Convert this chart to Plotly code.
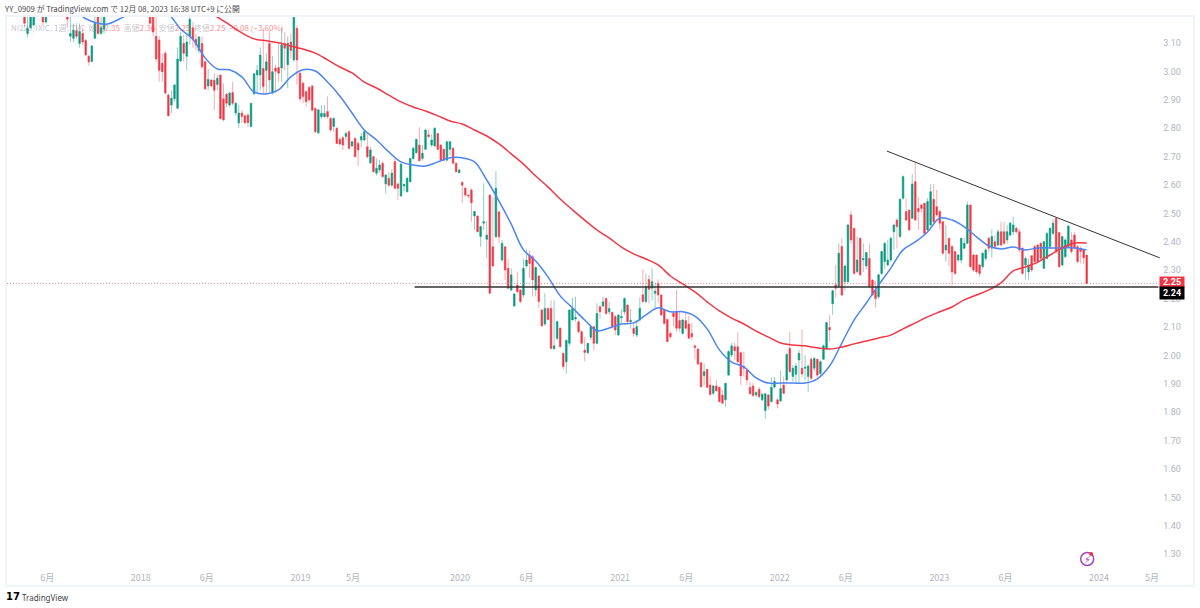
import numpy as np
import pandas as pd
import plotly.graph_objects as go

# weekly NI225/IXIC candles (values above 3.19 are off the top of the picture)
opens = [
    3.28,3.27,3.25,3.29,3.26,3.24,3.13,3.15,3.16,3.21,
    3.25,3.24,3.17,3.22,3.27,3.29,3.27,3.28,3.25,3.22,
    3.12,3.113,3.14,3.095,3.13,3.105,3.05,3.031,3.113,3.22,
    3.13,3.145,3.22,3.26,3.28,3.31,3.33,3.32,3.36,3.38,
    3.37,3.40,3.42,3.41,3.38,3.35,3.30,3.21,3.12,3.107,
    3.025,3.06,2.913,2.878,2.90,2.867,3.033,3.095,3.05,3.12,
    3.15,3.11,3.07,3.095,3.03,2.945,2.966,2.965,2.95,2.984,
    2.90,2.916,2.878,2.922,2.85,2.815,2.85,2.84,2.843,2.802,
    2.917,2.984,2.984,3.007,3.0,3.095,2.92,3.008,3.01,3.008,
    3.095,3.02,3.10,3.037,3.148,2.99,2.955,2.925,2.94,2.945,
    2.866,2.78,2.837,2.837,2.855,2.831,2.802,2.796,2.757,2.763,
    2.767,2.784,2.734,2.76,2.743,2.755,2.755,2.731,2.675,2.696,
    2.638,2.649,2.673,2.60,2.62,2.596,2.679,2.60,2.558,2.593,
    2.573,2.608,2.69,2.71,2.737,2.69,2.722,2.773,2.737,2.734,
    2.778,2.737,2.722,2.684,2.722,2.726,2.673,2.64,2.606,2.585,
    2.561,2.579,2.487,2.487,2.415,2.462,2.405,2.561,2.379,2.414,
    2.502,2.332,2.379,2.303,2.227,2.17,2.244,2.227,2.209,2.311,
    2.35,2.344,2.227,2.276,2.156,2.107,2.162,2.162,2.02,2.056,
    2.092,2.004,1.974,2.039,2.121,2.125,2.115,2.08,2.015,2.006,
    2.06,2.097,2.039,2.168,2.17,2.197,2.15,2.148,2.133,2.068,
    2.129,2.15,2.174,2.115,2.092,2.068,2.121,2.21,2.186,2.264,
    2.233,2.215,2.25,2.209,2.156,2.123,2.074,2.145,2.15,2.119,
    2.074,2.119,2.107,2.074,2.03,2.019,1.971,1.925,1.947,1.892,
    1.863,1.889,1.884,1.857,1.84,1.927,1.998,2.027,2.027,2.006,
    1.957,1.945,1.884,1.889,1.857,1.877,1.84,1.802,1.857,1.834,
    1.885,1.84,1.836,1.892,1.91,2.021,1.922,1.93,1.98,1.951,
    1.951,1.922,1.983,1.951,1.983,1.933,1.983,2.021,2.095,2.178,
    2.245,2.239,2.38,2.256,2.256,2.491,2.444,2.291,2.409,2.333,
    2.311,2.338,2.262,2.227,2.203,2.285,2.327,2.315,2.332,2.432,
    2.473,2.415,2.55,2.503,2.508,2.479,2.608,2.514,2.526,2.532,
    2.438,2.456,2.546,2.52,2.503,2.467,2.368,2.409,2.38,2.362,
    2.332,2.332,2.374,2.391,2.526,2.35,2.35,2.315,2.309,2.338,
    2.409,2.374,2.397,2.385,2.432,2.432,2.403,2.42,2.432,2.444,
    2.432,2.374,2.315,2.29,2.347,2.38,2.385,2.391,2.303,2.338,
    2.379,2.426,2.479,2.429,2.315,2.344,2.379,2.403,2.42,2.379,
    2.374,2.368,2.35,
]
highs = [
    3.30,3.29,3.30,3.31,3.28,3.25,3.19,3.24,3.25,3.27,
    3.29,3.27,3.24,3.29,3.31,3.32,3.30,3.30,3.27,3.24,
    3.19,3.165,3.165,3.165,3.15,3.11,3.055,3.09,3.19,3.24,
    3.19,3.25,3.28,3.30,3.33,3.35,3.36,3.37,3.40,3.41,
    3.42,3.44,3.45,3.43,3.40,3.37,3.32,3.23,3.19,3.12,
    3.06,3.07,2.92,2.93,2.95,3.08,3.135,3.125,3.125,3.25,
    3.17,3.13,3.12,3.12,3.035,3.005,2.97,2.99,2.985,2.985,
    2.955,2.92,2.925,2.96,2.89,2.88,2.86,2.845,2.85,2.885,
    2.99,3.02,3.08,3.148,3.06,3.14,3.05,3.02,3.095,3.15,
    3.135,3.12,3.13,3.24,3.16,2.995,2.96,2.93,2.945,2.95,
    2.87,2.865,2.878,2.878,2.908,2.835,2.835,2.80,2.765,2.77,
    2.785,2.79,2.752,2.765,2.75,2.78,2.79,2.78,2.73,2.70,
    2.69,2.685,2.68,2.635,2.643,2.652,2.69,2.605,2.672,2.60,
    2.625,2.69,2.731,2.76,2.80,2.737,2.795,2.792,2.775,2.80,
    2.78,2.74,2.725,2.752,2.752,2.73,2.675,2.655,2.608,2.59,
    2.565,2.585,2.505,2.49,2.453,2.602,2.47,2.565,2.555,2.645,
    2.505,2.403,2.38,2.338,2.303,2.215,2.291,2.23,2.338,2.37,
    2.365,2.35,2.31,2.28,2.16,2.215,2.165,2.19,2.19,2.12,
    2.095,2.006,2.05,2.16,2.2,2.203,2.12,2.085,2.06,2.04,
    2.105,2.1,2.18,2.175,2.203,2.2,2.185,2.15,2.14,2.14,
    2.16,2.2,2.175,2.16,2.11,2.12,2.2,2.30,2.285,2.28,
    2.303,2.25,2.264,2.21,2.16,2.125,2.08,2.155,2.227,2.15,
    2.125,2.15,2.135,2.11,2.035,2.02,1.972,1.968,1.948,1.922,
    1.892,1.91,1.885,1.875,1.90,2.015,2.041,2.041,2.078,2.01,
    2.01,1.95,1.904,1.90,1.87,1.885,1.862,1.865,1.862,1.919,
    1.92,1.845,1.943,1.922,2.005,2.08,1.963,1.97,2.015,2.088,
    1.998,1.965,1.99,1.99,1.985,1.98,2.035,2.115,2.138,2.228,
    2.315,2.391,2.409,2.315,2.457,2.505,2.445,2.415,2.41,2.391,
    2.36,2.391,2.265,2.26,2.285,2.365,2.395,2.403,2.415,2.46,
    2.48,2.55,2.63,2.55,2.51,2.635,2.679,2.555,2.53,2.535,
    2.55,2.599,2.60,2.579,2.51,2.47,2.456,2.41,2.385,2.365,
    2.353,2.41,2.41,2.538,2.53,2.355,2.35,2.32,2.36,2.375,
    2.415,2.44,2.42,2.44,2.467,2.467,2.456,2.467,2.485,2.45,
    2.44,2.378,2.345,2.338,2.35,2.385,2.39,2.395,2.40,2.43,
    2.447,2.475,2.483,2.432,2.418,2.41,2.455,2.43,2.43,2.385,
    2.38,2.37,2.35,
]
lows = [
    3.26,3.24,3.24,3.25,3.23,3.15,3.117,3.145,3.155,3.20,
    3.23,3.16,3.165,3.21,3.25,3.26,3.25,3.24,3.21,3.15,
    3.10,3.10,3.11,3.08,3.09,3.05,3.017,3.03,3.11,3.125,
    3.125,3.13,3.20,3.24,3.26,3.29,3.30,3.31,3.34,3.35,
    3.36,3.38,3.39,3.36,3.33,3.28,3.16,3.12,3.03,2.96,
    2.96,2.915,2.84,2.85,2.89,2.865,3.03,3.03,3.0,3.09,
    3.08,3.07,3.06,3.005,2.93,2.93,2.94,2.86,2.93,2.83,
    2.82,2.87,2.87,2.875,2.84,2.797,2.815,2.81,2.80,2.80,
    2.915,2.92,2.93,2.92,2.92,2.92,2.915,2.92,2.96,2.96,
    3.0,2.937,3.04,3.03,2.95,2.89,2.884,2.872,2.89,2.855,
    2.78,2.775,2.83,2.835,2.83,2.785,2.784,2.74,2.735,2.72,
    2.755,2.72,2.73,2.695,2.663,2.73,2.75,2.69,2.67,2.64,
    2.63,2.64,2.62,2.567,2.59,2.59,2.58,2.544,2.555,2.573,
    2.57,2.605,2.687,2.708,2.68,2.682,2.72,2.76,2.73,2.73,
    2.72,2.68,2.68,2.68,2.70,2.67,2.64,2.637,2.534,2.555,
    2.55,2.467,2.438,2.43,2.379,2.438,2.338,2.215,2.31,2.41,
    2.391,2.326,2.262,2.23,2.222,2.17,2.215,2.18,2.20,2.305,
    2.27,2.203,2.205,2.162,2.10,2.10,2.12,2.02,2.016,2.05,
    2.025,1.945,1.933,2.03,2.12,2.115,2.075,2.035,1.975,2.0,
    2.05,2.013,2.035,2.125,2.165,2.14,2.14,2.09,2.068,2.066,
    2.11,2.14,2.11,2.09,2.062,2.06,2.115,2.18,2.18,2.18,
    2.19,2.162,2.18,2.135,2.105,2.044,2.055,2.098,2.08,2.08,
    2.07,2.085,2.055,2.05,1.983,1.964,1.885,1.892,1.883,1.855,
    1.857,1.868,1.83,1.825,1.816,1.925,1.99,1.98,1.97,1.892,
    1.922,1.892,1.86,1.85,1.85,1.845,1.835,1.773,1.805,1.83,
    1.88,1.81,1.833,1.86,1.905,1.935,1.904,1.90,1.90,1.92,
    1.91,1.869,1.91,1.94,1.92,1.925,1.98,2.015,2.045,2.139,
    2.20,2.235,2.205,2.225,2.25,2.39,2.28,2.285,2.275,2.29,
    2.30,2.235,2.205,2.165,2.195,2.28,2.30,2.31,2.325,2.368,
    2.373,2.41,2.545,2.47,2.435,2.475,2.47,2.438,2.50,2.42,
    2.43,2.45,2.46,2.485,2.44,2.35,2.327,2.31,2.245,2.28,
    2.325,2.32,2.37,2.39,2.305,2.29,2.285,2.274,2.30,2.33,
    2.36,2.34,2.37,2.38,2.38,2.385,2.39,2.415,2.42,2.425,
    2.36,2.28,2.264,2.262,2.29,2.32,2.32,2.33,2.30,2.335,
    2.37,2.42,2.355,2.305,2.31,2.34,2.375,2.355,2.37,2.32,
    2.32,2.318,2.25,
]
closes = [
    3.27,3.25,3.29,3.26,3.24,3.166,3.148,3.22,3.20,3.25,
    3.27,3.17,3.21,3.27,3.29,3.27,3.28,3.25,3.22,3.18,
    3.13,3.142,3.12,3.137,3.10,3.054,3.03,3.086,3.166,3.13,
    3.15,3.22,3.26,3.28,3.31,3.33,3.32,3.36,3.38,3.37,
    3.40,3.42,3.41,3.38,3.35,3.30,3.166,3.135,3.04,3.0,
    2.995,2.92,2.84,2.902,2.949,3.04,3.12,3.06,3.10,3.18,
    3.11,3.09,3.118,3.013,2.935,2.968,2.945,2.93,2.972,2.83,
    2.826,2.884,2.92,2.884,2.884,2.85,2.838,2.816,2.816,2.884,
    2.988,3.0,3.054,2.943,3.03,2.966,2.995,2.997,2.99,3.09,
    3.078,3.095,3.07,3.187,3.037,2.90,2.908,2.89,2.896,2.86,
    2.784,2.861,2.849,2.848,2.837,2.79,2.831,2.743,2.741,2.737,
    2.778,2.726,2.749,2.696,2.72,2.767,2.784,2.696,2.72,2.643,
    2.655,2.667,2.626,2.632,2.596,2.638,2.585,2.585,2.67,2.599,
    2.62,2.69,2.726,2.757,2.682,2.708,2.79,2.767,2.755,2.796,
    2.722,2.684,2.684,2.749,2.749,2.673,2.643,2.649,2.596,2.561,
    2.558,2.534,2.503,2.432,2.45,2.467,2.42,2.215,2.311,2.585,
    2.414,2.391,2.297,2.233,2.28,2.213,2.221,2.186,2.303,2.332,
    2.32,2.262,2.306,2.186,2.10,2.162,2.123,2.021,2.03,2.115,
    2.027,1.957,2.05,2.156,2.162,2.13,2.08,2.039,2.007,2.039,
    2.097,2.039,2.144,2.15,2.185,2.144,2.162,2.098,2.086,2.139,
    2.133,2.197,2.115,2.12,2.074,2.098,2.162,2.186,2.238,2.229,
    2.256,2.223,2.209,2.139,2.109,2.045,2.062,2.133,2.092,2.092,
    2.121,2.092,2.057,2.062,2.024,1.966,1.886,1.939,1.884,1.859,
    1.889,1.872,1.834,1.828,1.898,2.01,2.03,2.013,1.974,1.924,
    1.951,1.91,1.861,1.855,1.866,1.851,1.86,1.861,1.818,1.884,
    1.905,1.825,1.88,1.863,2.0,1.939,1.951,1.959,2.004,1.931,
    1.955,1.959,1.916,1.986,1.927,1.974,2.03,2.112,2.086,2.224,
    2.233,2.356,2.209,2.311,2.456,2.403,2.285,2.332,2.28,2.338,
    2.359,2.239,2.209,2.197,2.28,2.362,2.391,2.332,2.409,2.456,
    2.45,2.546,2.626,2.473,2.438,2.60,2.473,2.503,2.514,2.426,
    2.538,2.573,2.467,2.491,2.462,2.356,2.385,2.356,2.29,2.285,
    2.35,2.409,2.391,2.526,2.309,2.297,2.291,2.285,2.356,2.368,
    2.374,2.415,2.38,2.432,2.385,2.391,2.432,2.462,2.456,2.432,
    2.368,2.285,2.338,2.315,2.297,2.327,2.327,2.338,2.397,2.426,
    2.444,2.462,2.362,2.309,2.415,2.403,2.452,2.362,2.374,2.327,
    2.362,2.34,2.25,
]

# moving averages, one reading every 4 weeks
ma_fast = [
    3.188,3.169,3.163,3.181,3.202,3.216,3.22,3.199,3.146,3.11,
    3.044,3.005,3.002,2.977,2.924,2.917,2.931,2.977,3.002,2.998,
    2.959,2.91,2.85,2.79,2.755,2.713,2.678,2.667,2.663,2.678,
    2.692,2.692,2.678,2.614,2.54,2.459,2.368,2.329,2.273,2.206,
    2.164,2.121,2.083,2.093,2.107,2.111,2.139,2.164,2.15,2.15,
    2.135,2.09,2.016,1.973,1.956,1.917,1.899,1.899,1.899,1.899,
    1.914,1.959,2.04,2.121,2.181,2.244,2.304,2.368,2.396,2.431,
    2.48,2.473,2.449,2.414,2.382,2.371,2.378,2.368,2.375,2.375,
    2.375,2.375,2.368,
]
ma_slow = [
    3.209,3.188,3.16,3.132,3.111,3.104,3.097,3.086,3.075,3.061,
    3.037,3.012,2.991,2.959,2.938,2.913,2.889,2.871,2.857,2.84,
    2.822,2.811,2.79,2.769,2.741,2.706,2.67,2.628,2.59,2.547,
    2.509,2.473,2.438,2.41,2.378,2.354,2.336,2.315,2.276,2.248,
    2.22,2.185,2.153,2.128,2.107,2.082,2.061,2.04,2.033,2.03,
    2.023,2.019,2.026,2.037,2.047,2.058,2.068,2.09,2.111,2.132,
    2.15,2.167,2.192,2.209,2.227,2.252,2.294,2.308,2.325,2.35,
    2.375,2.392,2.392,
]

trend_dates = ["2022-09-03", "2024-05-19"]
trend_values = [2.716, 2.340]
level_dates = ["2019-09-19", "2024-05-16"]
level_values = [2.237, 2.237]
last_dates = ["2017-03-01", "2024-05-16"]
last_values = [2.25, 2.25]

price_ticks = [3.10, 3.00, 2.90, 2.80, 2.70, 2.60, 2.50, 2.40, 2.30, 2.20, 2.10, 2.00,
               1.90, 1.80, 1.70, 1.60, 1.50, 1.40, 1.30]
date_ticks = ["2017-06-01", "2018-01-01", "2018-06-01", "2019-01-01", "2019-05-01", "2020-01-01",
              "2020-06-01", "2021-01-01", "2021-06-01", "2022-01-01", "2022-06-01", "2023-01-01",
              "2023-06-01", "2024-01-01", "2024-05-01"]
date_labels = ["6月", "2018", "6月", "2019", "5月", "2020", "6月", "2021", "6月", "2022", "6月", "2023",
               "6月", "2024", "5月"]

UP = "#089981"
DOWN = "#F23645"
UP_WICK = "#8dd0c5"
DOWN_WICK = "#f9abb2"
AXIS = "#b2b5be"
FONT = "Noto Sans CJK JP"

dates = pd.date_range("2017-03-06", periods=len(closes), freq="7D")
o, c = np.array(opens), np.array(closes)

fig = go.Figure()
# wicks are paler than the bodies, so draw them as their own candle trace underneath
fig.add_trace(go.Candlestick(
    x=dates, open=opens, high=highs, low=lows, close=closes, whiskerwidth=0,
    increasing=dict(line=dict(color=UP_WICK, width=1), fillcolor=UP_WICK),
    decreasing=dict(line=dict(color=DOWN_WICK, width=1), fillcolor=DOWN_WICK),
))
fig.add_trace(go.Candlestick(
    x=dates, open=opens, high=np.maximum(o, c), low=np.minimum(o, c), close=closes, whiskerwidth=0,
    increasing=dict(line=dict(color=UP, width=0.3), fillcolor=UP),
    decreasing=dict(line=dict(color=DOWN, width=0.3), fillcolor=DOWN),
))
fig.add_trace(go.Scatter(x=dates[24::4], y=ma_fast, mode="lines",
                         line=dict(color="#4d84f5", width=1.5, shape="spline")))
fig.add_trace(go.Scatter(x=dates[64::4], y=ma_slow, mode="lines",
                         line=dict(color=DOWN, width=1.5, shape="spline")))
fig.add_trace(go.Scatter(x=last_dates, y=last_values, mode="lines",
                         line=dict(color="#f4656f", width=0.8, dash="1px,2px")))
fig.add_trace(go.Scatter(x=level_dates, y=level_values, mode="lines",
                         line=dict(color="#333333", width=1.5)))
fig.add_trace(go.Scatter(x=trend_dates, y=trend_values, mode="lines",
                         line=dict(color="#333333", width=1)))

gray = "rgba(120,123,134,0.45)"
red = "rgba(242,54,69,0.6)"
legend = (f'<span style="color:{gray}">NI225/IXIC, 1週, TVC &nbsp;始値</span><span style="color:{red}">2.35</span>'
          f'<span style="color:{gray}"> &nbsp;高値</span><span style="color:{red}">2.36</span>'
          f'<span style="color:{gray}"> &nbsp;安値</span><span style="color:{red}">2.25</span>'
          f'<span style="color:{gray}"> &nbsp;終値</span><span style="color:{red}">2.25 &nbsp;−0.08 (−3.60%)</span>')

annotations = [
    dict(xref="paper", yref="paper", x=0, y=1, yanchor="top", xanchor="left", showarrow=False, text=legend,
         font=dict(size=8, family=FONT), xshift=2, yshift=-3),
    dict(xref="paper", yref="paper", x=0, y=1, yanchor="bottom", xanchor="left", showarrow=False, xshift=-5, yshift=1,
         text="YY_0909 が TradingView.com で 12月 08, 2023 16:38 UTC+9 に公開",
         font=dict(size=7.8, family=FONT, color="#4a4a4a")),
    dict(xref="paper", yref="paper", x=0, y=0, yanchor="top", xanchor="left", showarrow=False, xshift=-3, yshift=-4,
         text="<b>17</b>", font=dict(size=10, family="DejaVu Sans", color="#000000")),
    dict(xref="paper", yref="paper", x=0, y=0, yanchor="top", xanchor="left", showarrow=False, xshift=13, yshift=-5,
         text="TradingView", font=dict(size=8, family="Noto Sans", color="#444444")),
    dict(xref="paper", x=1154 / 1188, y=2.25, yref="y", xanchor="left", showarrow=False, text="<b>2.25</b>",
         font=dict(size=9, color="#ffffff", family="Roboto"), bgcolor=DOWN, width=24, height=10, borderpad=0, yshift=1),
    dict(xref="paper", x=1154 / 1188, y=2.24, yref="y", xanchor="left", showarrow=False, text="<b>2.24</b>",
         font=dict(size=9, color="#ffffff", family="Roboto"), bgcolor="#000000", width=24, height=12, borderpad=0, yshift=-7),
    dict(xref="paper", yref="paper", x=1082 / 1188, y=1 - 542 / 568, xanchor="center", yanchor="middle", showarrow=False,
         text="<b>⚡</b>", font=dict(size=10, color="#a845c2", family="DejaVu Sans")),
]

shapes = [
    dict(type="circle", xref="paper", yref="paper", x0=1075.5 / 1188, x1=1088.5 / 1188,
         y0=1 - 548.5 / 568, y1=1 - 535.5 / 568, line=dict(color="#a845c2", width=1.5)),
    dict(type="circle", xref="paper", yref="paper", x0=1084 / 1188, x1=1088 / 1188,
         y0=1 - 539 / 568, y1=1 - 535 / 568, line=dict(width=0), fillcolor=DOWN),
]

fig.update_layout(
    width=1200, height=608,
    margin=dict(l=5, r=7, t=17, b=23),
    paper_bgcolor="#ffffff", plot_bgcolor="#ffffff",
    showlegend=False,
    annotations=annotations,
    shapes=shapes,
    xaxis=dict(
        type="date", range=["2017-03-01", "2024-08-03"], rangeslider=dict(visible=False),
        tickvals=date_ticks, ticktext=date_labels, ticklabelposition="inside", ticklabelstandoff=1,
        tickfont=dict(size=9, color=AXIS, family=FONT), showgrid=False, zeroline=False, ticks="",
        showline=True, linecolor="#f0f3fa", linewidth=2, mirror=True,
    ),
    yaxis=dict(
        side="right", range=[1.188, 3.188], tickvals=price_ticks, tickformat=".2f",
        ticklabelposition="inside", ticklabelstandoff=11, ticklabelshift=1,
        tickfont=dict(size=9, color=AXIS, family="Roboto"), showgrid=False, zeroline=False, ticks="",
        showline=True, linecolor="#f0f3fa", linewidth=2, mirror=True,
    ),
)

# the page keeps the browser's 8px body margin unless it is dropped
fig.write_html("out.html", config={"displayModeBar": False},
               post_script="document.body.style.margin='0';")
